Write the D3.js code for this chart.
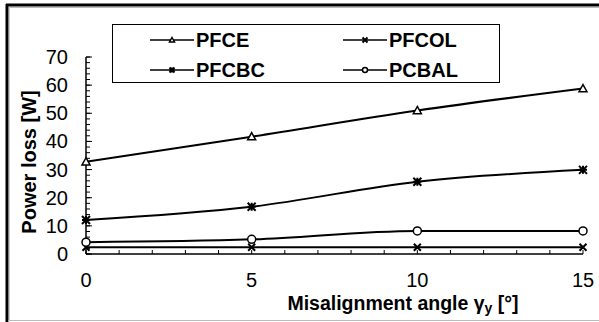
<!DOCTYPE html>
<html><head><meta charset="utf-8">
<script src="https://cdn.jsdelivr.net/npm/d3@7/dist/d3.min.js"></script>
<style>body{margin:0;background:#fff}svg{display:block}</style>
</head><body>
<script>
const angles = [0, 5, 10, 15];
const PFCE = [32.8, 41.7, 51.0, 58.8];
const PFCOL = [2.4, 2.4, 2.4, 2.4];
const PFCBC = [12.1, 16.8, 25.7, 29.9];
const PCBAL = [4.2, 5.2, 8.2, 8.2];
const yTicks = [0, 10, 20, 30, 40, 50, 60, 70];
const xTicks = [0, 5, 10, 15];
const seriesNames = ["PFCE", "PFCOL", "PFCBC", "PCBAL"];
const markers = ["triangle", "x", "asterisk", "circle"];

const W = 599, H = 322;
const svg = d3.select("body").append("svg").attr("width", W).attr("height", H);
const font = "'Liberation Sans', Arial, sans-serif";

// outer frame
svg.append("line").attr("x1", 9).attr("x2", W).attr("y1", 7.5).attr("y2", 7.5).attr("stroke", "#bbb").attr("stroke-width", 1);
svg.append("line").attr("x1", 9.5).attr("x2", 9.5).attr("y1", 7).attr("y2", 320).attr("stroke", "#ccc").attr("stroke-width", 1);
svg.append("line").attr("x1", 6).attr("x2", W).attr("y1", 5).attr("y2", 5).attr("stroke", "#000").attr("stroke-width", 3);
svg.append("line").attr("x1", 7).attr("x2", 7).attr("y1", 4).attr("y2", 322).attr("stroke", "#000").attr("stroke-width", 3);
svg.append("line").attr("x1", 8).attr("x2", W).attr("y1", 320.5).attr("y2", 320.5).attr("stroke", "#bbb").attr("stroke-width", 1.2);

const x = d3.scaleLinear().domain([0, 15]).range([86, 583]);
const y = d3.scaleLinear().domain([0, 70]).range([254, 57]);

// x axis
const gx = svg.append("g").attr("transform", `translate(0,${y(0)})`);
gx.append("line").attr("x1", x(0)).attr("x2", x(15)).attr("stroke", "#000").attr("stroke-width", 1.5);
gx.selectAll("line.t").data(d3.range(0, 16)).enter().append("line")
  .attr("x1", d => x(d)).attr("x2", d => x(d)).attr("y1", 0).attr("y2", -4)
  .attr("stroke", "#000").attr("stroke-width", 1);
gx.selectAll("text").data(xTicks).enter().append("text")
  .attr("x", d => x(d)).attr("y", 33).attr("text-anchor", "middle")
  .attr("font-family", font).attr("font-size", 20).text(d => d);

// y axis
const gy = svg.append("g").attr("transform", `translate(${x(0)},0)`);
gy.append("line").attr("y1", y(0)).attr("y2", y(70)).attr("stroke", "#000").attr("stroke-width", 1.5);
gy.selectAll("line.t").data(d3.range(0, 71, 2)).enter().append("line")
  .attr("x1", 0).attr("x2", 4).attr("y1", d => y(d)).attr("y2", d => y(d))
  .attr("stroke", "#000").attr("stroke-width", 1);
gy.selectAll("line.m").data(yTicks).enter().append("line")
  .attr("x1", 0).attr("x2", 6).attr("y1", d => y(d)).attr("y2", d => y(d))
  .attr("stroke", "#000").attr("stroke-width", 1);
gy.selectAll("text").data(yTicks).enter().append("text")
  .attr("x", -18).attr("y", d => y(d) + 7).attr("text-anchor", "end")
  .attr("font-family", font).attr("font-size", 20).text(d => d);

// titles
const xt = svg.append("text").attr("x", 403).attr("y", 310).attr("text-anchor", "middle")
  .attr("font-family", font).attr("font-size", 19.5).attr("font-weight", "bold");
xt.append("tspan").text("Misalignment angle γ");
xt.append("tspan").attr("font-size", 14).attr("dy", 3).text("y");
xt.append("tspan").attr("dy", -3).text(" [°]");

svg.append("text").attr("transform", "translate(36,162) rotate(-90)").attr("text-anchor", "middle")
  .attr("font-family", font).attr("font-size", 20).attr("font-weight", "bold").text("Power loss [W]");

// markers
function drawMarker(g, type, cx, cy, s) {
  if (type === "triangle") {
    g.append("path").attr("d", `M${cx},${cy - s}L${cx + s},${cy + s * 0.8}L${cx - s},${cy + s * 0.8}Z`)
      .attr("fill", "#fff").attr("stroke", "#000").attr("stroke-width", 1.5);
  } else if (type === "circle") {
    g.append("circle").attr("cx", cx).attr("cy", cy).attr("r", s).attr("fill", "#fff").attr("stroke", "#000").attr("stroke-width", 1.5);
  } else if (type === "x") {
    g.append("path").attr("d", `M${cx - s},${cy - s}L${cx + s},${cy + s}M${cx - s},${cy + s}L${cx + s},${cy - s}`)
      .attr("stroke", "#000").attr("stroke-width", 2);
  } else {
    g.append("path").attr("d", `M${cx - s},${cy - s}L${cx + s},${cy + s}M${cx - s},${cy + s}L${cx + s},${cy - s}M${cx},${cy - s}L${cx},${cy + s}M${cx - s},${cy}L${cx + s},${cy}`)
      .attr("stroke", "#000").attr("stroke-width", 2);
  }
}

const allSeries = [PFCE, PFCOL, PFCBC, PCBAL];
const line = d3.line().x((d, i) => x(angles[i])).y(d => y(d)).curve(d3.curveMonotoneX);
const plot = svg.append("g");
allSeries.forEach((vals, k) => {
  plot.append("path").datum(vals).attr("d", line).attr("fill", "none").attr("stroke", "#000").attr("stroke-width", 2);
});
allSeries.forEach((vals, k) => {
  vals.forEach((v, i) => drawMarker(plot, markers[k], x(angles[i]), y(v), k === 1 ? 3.5 : 4));
});

// legend
const lg = svg.append("g");
lg.append("rect").attr("x", 112.5).attr("y", 24.5).attr("width", 387).attr("height", 58)
  .attr("fill", "#fff").attr("stroke", "#000").attr("stroke-width", 1);
const legPos = [[150, 40], [343, 40], [150, 70], [343, 70]];
seriesNames.forEach((name, k) => {
  const [lx, ly] = legPos[k];
  lg.append("line").attr("x1", lx).attr("x2", lx + 44).attr("y1", ly).attr("y2", ly).attr("stroke", "#000").attr("stroke-width", 1.5);
  drawMarker(lg, markers[k], lx + 22, ly, 2.5);
  lg.append("text").attr("x", lx + 46).attr("y", ly + 7).attr("font-family", font).attr("font-size", 20)
    .attr("font-weight", "bold").text(name);
});
</script>
</body></html>
